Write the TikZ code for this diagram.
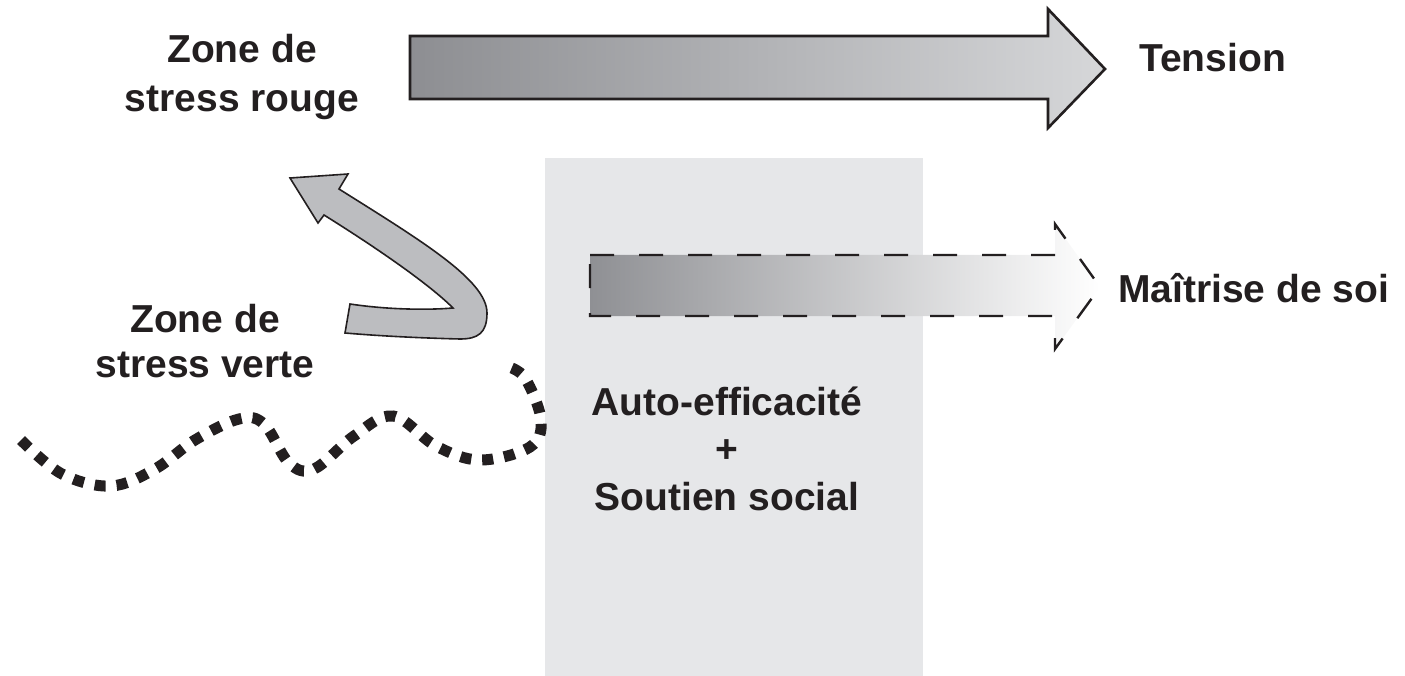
\documentclass[tikz,border=0pt]{standalone}
\usepackage{fontspec}
\setmainfont{Liberation Sans}

\definecolor{ink}{HTML}{231F20}
\definecolor{panel}{HTML}{E6E7E9}
\definecolor{tensiondark}{HTML}{8D8E92}
\definecolor{tensionlight}{HTML}{D6D7D9}
\definecolor{controldark}{HTML}{8F9094}
\definecolor{bendgray}{HTML}{BCBDC0}

\begin{document}
\begin{tikzpicture}[
  x=1pt,
  y=-1pt,
  font=\fontsize{39}{45}\selectfont\bfseries,
  caption/.style={text=ink,inner sep=0pt,align=center},
  outline/.style={draw=ink,line width=2.6pt,line join=miter},
  dashline/.style={draw=ink,line width=2.4pt,dash pattern=on 24pt off 25pt},
  bendline/.style={draw=ink,line width=1.6pt,fill=bendgray,line join=miter},
  dotline/.style={draw=ink,line width=11pt,dash pattern=on 11pt off 11pt}
]
\useasboundingbox (0,0) rectangle (1405,676);

% Resource panel
\fill[panel] (545,158) rectangle (923,676);

% Tension arrow with left-to-right shading
\shade[left color=tensiondark,right color=tensionlight]
  (410,36) -- (1048,36) -- (1048,9) -- (1105,69) -- (1048,128) -- (1048,99) -- (410,99) -- cycle;
\draw[outline]
  (410,36) -- (1048,36) -- (1048,9) -- (1105,69) -- (1048,128) -- (1048,99) -- (410,99) -- cycle;

% Self-control arrow, dashed and fading out
\shade[left color=controldark,right color=white]
  (590,255) -- (1055,255) -- (1055,224) -- (1100,287) -- (1055,349) -- (1055,316) -- (590,316) -- cycle;
\draw[dashline]
  (590,255) -- (1055,255) -- (1055,224) -- (1100,287) -- (1055,349) -- (1055,316) -- (590,316) -- cycle;

% Bent arrow from the green zone up to the red zone
\draw[bendline]
  (350,304) .. controls (390,310) and (430,310) .. (453,308)
  .. controls (430,285) and (380,250) .. (324,215)
  -- (318,223) -- (290,178) -- (348,174) -- (339,189)
  .. controls (420,240) and (487,280) .. (487,313)
  .. controls (487,333) and (478,339) .. (460,339)
  .. controls (420,338) and (380,336) .. (345,333) -- cycle;

% Wavy boundary of the green zone
\draw[dotline] plot[smooth,tension=0.6] coordinates {
  (21,440) (62,474) (111,486) (155,469) (195,440) (239,419)
  (264,424) (289,463) (314,469) (354,436) (393,416)
  (436,446) (480,460) (530,447) (541,420) (525,378) (506,366)};

% Labels
\node[caption,anchor=base,font=\fontsize{39}{49}\selectfont\bfseries] (rouge)
  at (242,112) {Zone de\\stress rouge};
\node[caption,anchor=base] (verte) at (205,377) {Zone de\\stress verte};
\node[caption,anchor=base west] (tension) at (1139,72) {Tension};
\node[caption,anchor=base west] (maitrise) at (1118,302) {Maîtrise de soi};
\node[caption,anchor=base,font=\fontsize{39}{47.5}\selectfont\bfseries] (ressources)
  at (727,510) {Auto-efficacité\\+\\Soutien social};

\end{tikzpicture}
\end{document}
